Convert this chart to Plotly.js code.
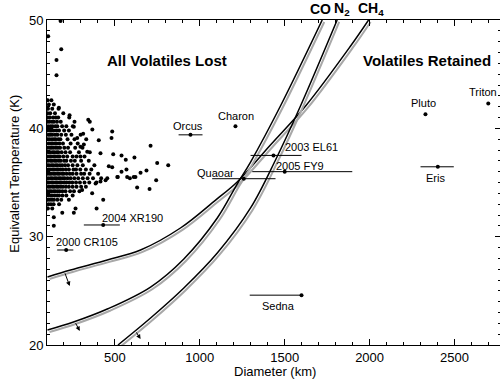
<!DOCTYPE html>
<html>
<head>
<meta charset="utf-8">
<script src="https://cdn.plot.ly/plotly-3.0.1.min.js"></script>
<style>
html,body{margin:0;padding:0;overflow:hidden;background:#fff;}
#chart{width:502px;height:384px;}
</style>
</head>
<body>
<div id="chart"></div>
<script>
// ---- Data ----
// background cloud of small bodies: rows of equal temperature
const cloudRowT = [42.6, 42.2, 41.8, 41.4, 41.0, 40.6, 40.2, 39.8, 39.4, 39.0, 38.6, 38.2, 37.8, 37.4, 37.0, 36.6, 36.2, 35.8, 35.4, 35.0, 34.6, 34.2, 33.8, 33.4, 33.0, 32.6];
const cloudRowD = [
  [104, 126],
  [111, 140],
  [106, 131, 168],
  [103, 119, 147, 196],
  [105, 117, 136, 152, 166, 231],
  [103, 114, 129, 141, 159, 181, 262],
  [107, 121, 133, 149, 161, 189, 214, 252],
  [102, 116, 126, 139, 156, 171, 201, 229],
  [109, 119, 131, 147, 161, 184, 211, 244, 298],
  [104, 115, 129, 141, 151, 167, 179, 221, 262, 331],
  [110, 123, 133, 147, 157, 173, 194, 239, 281],
  [103, 116, 126, 138, 152, 164, 177, 202, 224, 266, 309],
  [108, 119, 133, 143, 157, 167, 186, 209, 236, 288, 352],
  [103, 115, 125, 139, 149, 163, 174, 196, 219, 251, 274, 321],
  [107, 121, 131, 145, 155, 169, 181, 201, 214, 241, 264, 301, 346],
  [104, 113, 127, 137, 151, 161, 176, 189, 206, 224, 251, 279, 311, 379],
  [108, 119, 133, 143, 157, 167, 181, 194, 211, 229, 256, 271, 296, 329, 361],
  [103, 115, 125, 139, 149, 163, 173, 189, 199, 216, 234, 251, 274, 301, 319, 351, 401],
  [107, 121, 131, 145, 155, 169, 179, 193, 204, 221, 239, 261, 284, 311, 339, 371, 419],
  [104, 113, 127, 137, 151, 161, 175, 185, 201, 214, 231, 249, 271, 294, 321, 349, 391],
  [109, 119, 133, 143, 157, 167, 181, 194, 211, 229, 251, 274, 301, 329],
  [103, 115, 125, 139, 149, 163, 175, 191, 209, 236, 259, 291],
  [108, 121, 131, 145, 159, 171, 191, 214, 251],
  [104, 116, 129, 141, 161, 184, 229],
  [109, 123, 139, 171],
  [105, 131]
];
// scattered individual bodies
const sparseD = [180, 107, 184, 156, 156, 170, 233, 343, 352, 258, 367, 484, 480, 405, 278, 313, 297, 317, 710, 415, 490, 539, 615, 564, 749, 814, 464, 484, 686, 651, 539, 568, 517, 588, 621, 743, 455, 415, 386, 631, 704, 366, 307, 431, 392, 268, 258, 190, 140, 140, 337, 297, 514, 572, 611, 445];
const sparseT = [49.9, 48.5, 47.3, 46.3, 44.9, 41.9, 41.2, 40.8, 40.6, 40.15, 39.9, 39.7, 39.1, 38.9, 39.1, 39.5, 38.3, 38.5, 38.4, 37.7, 37.6, 37.5, 37.3, 37.1, 36.8, 36.6, 36.5, 36.4, 36.1, 35.9, 36.0, 36.2, 35.5, 35.4, 35.5, 35.2, 35.4, 35.1, 34.9, 34.55, 34.4, 34.0, 34.3, 33.4, 32.6, 32.6, 32.2, 32.2, 31.8, 31.0, 37.85, 37.4, 35.5, 35.5, 35.5, 35.2];

// named objects
const objNames = ['Orcus', 'Charon', 'Pluto', 'Triton', 'Eris', '2003 EL61', '2005 FY9', 'Quaoar', 'Sedna', '2004 XR190', '2000 CR105'];
const objD = [945, 1210, 2329, 2699, 2402, 1434, 1500, 1259, 1599, 431, 213];
const objT = [39.4, 40.2, 41.3, 42.3, 36.45, 37.5, 36.0, 35.35, 24.6, 31.08, 28.77];
const objErrMinus = [70, 0, 0, 0, 102, 135, 191, 186, 305, 114, 53];
const objErrPlus = [71, 0, 0, 0, 94, 165, 398, 187, 0, 98, 42];

// volatile retention curves
const curveCH4D = [103, 239, 455, 651, 886, 1093, 1220, 1416, 1623, 1888, 1994];
const curveCH4T = [26.28, 26.92, 27.85, 28.77, 30.80, 33.38, 35.05, 38.46, 42.06, 47.6, 50];
const curveCOD = [103, 256, 455, 710, 906, 1103, 1220, 1299, 1475, 1721];
const curveCOT = [21.38, 22.12, 23.32, 25.35, 27.94, 31.72, 34.86, 36.89, 42.06, 50];
const curveN2D = [518, 710, 906, 1103, 1299, 1446, 1593, 1809];
const curveN2T = [20, 22.49, 25.26, 28.49, 32.65, 37.08, 42.06, 50];

// arrows (tail on curve, head below-right)
const arrowTailD = [203, 264, 621];
const arrowTailT = [26.74, 22.15, 21.3];
const arrowHeadD = [234, 293, 651];
const arrowHeadT = [25.44, 21.29, 20.55];

const xTickVals = [500, 1000, 1500, 2000, 2500];
const yTickVals = [20, 30, 40, 50];

// ---- styling (not data) ----
const FONT = 'Liberation Sans, Arial, Helvetica, sans-serif';
// label offsets in px: [xshift, yshift, xanchor]
const labelStyle = [
  [-2, 9, 'center'], [1, 10, 'center'], [-2, 11.5, 'center'], [-5, 11.5, 'center'],
  [-2, -11.5, 'center'], [10, 8, 'left'], [-11, 6, 'left'], [-8, 6, 'right'],
  [-23, -11, 'center'], [-3, 7, 'left'], [-12, 8, 'left']
];

const cloudD = [], cloudT = [];
cloudRowD.forEach((row, i) => row.forEach(d => { cloudD.push(d); cloudT.push(cloudRowT[i]); }));

const traces = [];
traces.push({x: cloudD.concat(sparseD), y: cloudT.concat(sparseT), mode: 'markers', type: 'scatter',
  marker: {color: '#000', size: 4}, hoverinfo: 'skip', cliponaxis: true});

function band(D, T) {
  traces.push({x: D.map(v => v + 12), y: T.map(v => v - 0.18), mode: 'lines', type: 'scatter',
    line: {color: '#a8a8a8', width: 2, shape: 'spline', smoothing: 1}, hoverinfo: 'skip'});
  traces.push({x: D, y: T, mode: 'lines', type: 'scatter',
    line: {color: '#000', width: 1.5, shape: 'spline', smoothing: 1}, hoverinfo: 'skip'});
}
band(curveCH4D, curveCH4T);
band(curveCOD, curveCOT);
band(curveN2D, curveN2T);

traces.push({x: objD, y: objT, mode: 'markers', type: 'scatter',
  marker: {color: '#000', size: 4},
  error_x: {type: 'data', symmetric: false, array: objErrPlus, arrayminus: objErrMinus,
    color: '#000', thickness: 1, width: 0},
  hoverinfo: 'skip', cliponaxis: false});

const ann = [];
objNames.forEach((n, i) => {
  ann.push({x: objD[i], y: objT[i], xref: 'x', yref: 'y', text: n, showarrow: false,
    xshift: labelStyle[i][0], yshift: labelStyle[i][1], xanchor: labelStyle[i][2], yanchor: 'middle',
    font: {family: FONT, size: 11, color: '#000'}});
});
arrowTailD.forEach((d, i) => {
  ann.push({x: arrowHeadD[i], y: arrowHeadT[i], ax: d, ay: arrowTailT[i], xref: 'x', yref: 'y',
    axref: 'x', ayref: 'y', text: '', showarrow: true, arrowhead: 2, arrowsize: 0.9,
    arrowwidth: 1, arrowcolor: '#000', standoff: 0, startstandoff: 0});
});
ann.push({x: 804, y: 46.3, xref: 'x', yref: 'y', text: '<b>All Volatiles Lost</b>', showarrow: false,
  font: {family: FONT, size: 15, color: '#000'}});
ann.push({x: 2341, y: 46.3, xref: 'x', yref: 'y', text: '<b>Volatiles Retained</b>', showarrow: false,
  font: {family: FONT, size: 15, color: '#000'}});
[['<b>CO</b>', 1711], ['<b>N<sub>2</sub></b>', 1840], ['<b>CH<sub>4</sub></b>', 2011]].forEach(p => {
  ann.push({x: p[1], y: 1.034, xref: 'x', yref: 'paper', text: p[0], showarrow: false,
    yanchor: 'middle', font: {family: FONT, size: 14, color: '#000'}});
});
ann.push({x: 0.503, y: -0.082, xref: 'paper', yref: 'paper', text: 'Diameter (km)', showarrow: false,
  yanchor: 'middle', font: {family: FONT, size: 13, color: '#000'}});
ann.push({x: -0.072, y: 0.528, xref: 'paper', yref: 'paper', text: 'Equivalent Temperature (K)',
  textangle: -90, showarrow: false, xanchor: 'center', yanchor: 'middle',
  font: {family: FONT, size: 13, color: '#000'}});

const axisCommon = {showline: true, linecolor: '#000', linewidth: 1, mirror: 'allticks',
  ticks: 'inside', ticklen: 6, tickwidth: 1, tickcolor: '#000', showgrid: false, zeroline: false,
  tickfont: {family: FONT, size: 13, color: '#000'}, fixedrange: true};

const layout = {
  width: 502, height: 384,
  margin: {l: 47, r: 1, t: 20, b: 39, pad: 0},
  paper_bgcolor: 'white', plot_bgcolor: 'white',
  showlegend: false,
  font: {family: FONT, color: '#000'},
  xaxis: Object.assign({}, axisCommon, {range: [100, 2774], tickmode: 'array', tickvals: xTickVals,
    ticktext: xTickVals.map(String),
    minor: {dtick: 100, tick0: 0, ticks: 'inside', ticklen: 3, tickcolor: '#000', tickwidth: 1, showgrid: false}}),
  yaxis: Object.assign({}, axisCommon, {range: [20, 50], tickmode: 'array', tickvals: yTickVals,
    ticktext: yTickVals.map(String),
    minor: {dtick: 1, tick0: 0, ticks: 'inside', ticklen: 3, tickcolor: '#000', tickwidth: 1, showgrid: false}}),
  annotations: ann
};

Plotly.newPlot('chart', traces, layout, {staticPlot: true, displayModeBar: false});
</script>
</body>
</html>
